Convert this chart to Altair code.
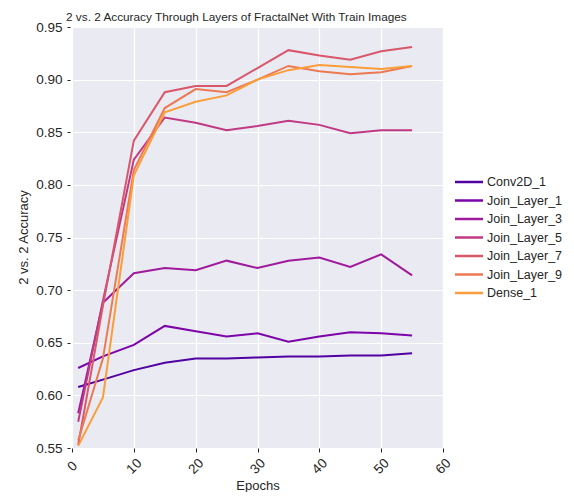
import altair as alt
import pandas as pd

epochs = [1, 5, 10, 15, 20, 25, 30, 35, 40, 45, 50, 55]
layers = ["Conv2D_1", "Join_Layer_1", "Join_Layer_3", "Join_Layer_5",
          "Join_Layer_7", "Join_Layer_9", "Dense_1"]
conv2d_1 = [0.608, 0.615, 0.624, 0.631, 0.635, 0.635, 0.636, 0.637, 0.637, 0.638, 0.638, 0.640]
join_layer_1 = [0.626, 0.637, 0.648, 0.666, 0.661, 0.656, 0.659, 0.651, 0.656, 0.660, 0.659, 0.657]
join_layer_3 = [0.583, 0.688, 0.716, 0.721, 0.719, 0.728, 0.721, 0.728, 0.731, 0.722, 0.734, 0.714]
join_layer_5 = [0.575, 0.690, 0.824, 0.864, 0.859, 0.852, 0.856, 0.861, 0.857, 0.849, 0.852, 0.852]
join_layer_7 = [0.553, 0.685, 0.842, 0.888, 0.894, 0.894, 0.911, 0.928, 0.923, 0.919, 0.927, 0.931]
join_layer_9 = [0.557, 0.635, 0.814, 0.873, 0.891, 0.888, 0.900, 0.913, 0.908, 0.905, 0.907, 0.913]
dense_1 = [0.552, 0.598, 0.809, 0.869, 0.879, 0.885, 0.900, 0.909, 0.914, 0.912, 0.910, 0.913]
colors = ["#5002a2", "#7c04a8", "#a01a9c", "#c03a83", "#d8576b", "#ed7953", "#fa9e3b"]

series = [conv2d_1, join_layer_1, join_layer_3, join_layer_5, join_layer_7, join_layer_9, dense_1]
rows = []
for name, vals in zip(layers, series):
    for e, v in zip(epochs, vals):
        rows.append({"Epochs": e, "Accuracy": v, "Layer": name})
df = pd.DataFrame(rows)

FONT = "Liberation Sans"
TXT = "#262626"

chart = alt.Chart(df).mark_line(strokeWidth=2, clip=True).encode(
    x=alt.X("Epochs:Q", scale=alt.Scale(domain=[0, 60], nice=False),
            axis=alt.Axis(title="Epochs", values=[0, 10, 20, 30, 40, 50, 60],
                          labelAngle=315, labelAlign="center", labelBaseline="middle",
                          labelPadding=14, tickSize=4, titleY=31, titleBaseline="top")),
    y=alt.Y("Accuracy:Q", scale=alt.Scale(domain=[0.55, 0.95], nice=False, zero=False),
            axis=alt.Axis(title="2 vs. 2 Accuracy", format=".2f",
                          values=[0.55, 0.6, 0.65, 0.7, 0.75, 0.8, 0.85, 0.9, 0.95],
                          tickSize=3, offset=2, labelPadding=5,
                          titleX=-47, titleY=210, titleAlign="center", titleBaseline="middle")),
    color=alt.Color("Layer:N", sort=layers,
                    scale=alt.Scale(domain=layers, range=colors),
                    legend=alt.Legend(title=None, orient="none", legendX=386, legendY=144,
                                      symbolType="M-1.5,0H1.5", symbolSize=350,
                                      symbolStrokeWidth=2.5,
                                      labelFontSize=12.5, labelFont=FONT, labelColor=TXT,
                                      labelOffset=7, rowPadding=0.5)),
    order="Epochs:Q",
).properties(
    width=371, height=421,
    title=alt.Title("2 vs. 2 Accuracy Through Layers of FractalNet With Train Images",
                    anchor="start", dx=49, dy=10, fontSize=11.8, font=FONT, fontWeight="normal",
                    color=TXT, offset=6),
    autosize=alt.AutoSizeParams(type="none"),
    padding={"left": 64, "top": 19, "right": 123, "bottom": 44},
).configure_view(
    fill="#eaeaf2", stroke=None
).configure_axis(
    grid=True, gridColor="white", gridWidth=1.2, domain=False,
    tickColor=TXT, labelColor=TXT, titleColor=TXT,
    labelFont=FONT, titleFont=FONT, labelFontSize=13.5, titleFontSize=13,
    titleFontWeight="normal",
)

chart.save("out.html", embed_options={"renderer": "svg", "actions": False})
